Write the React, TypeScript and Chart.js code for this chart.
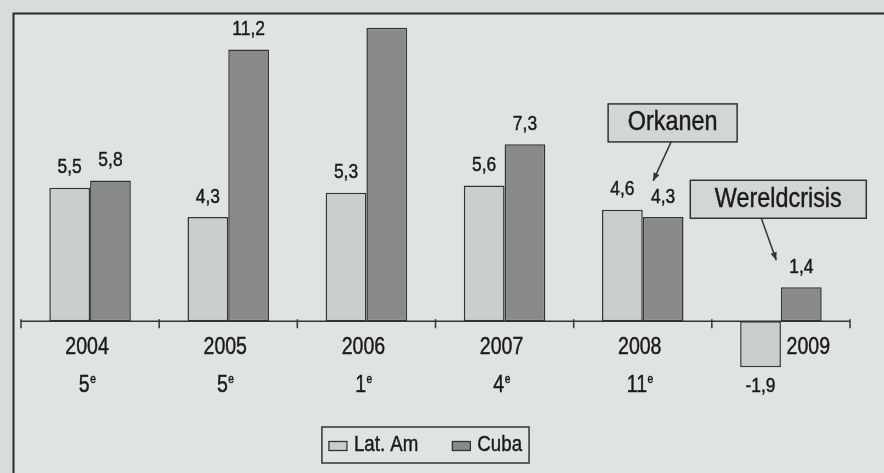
import { useEffect, useRef } from 'react';
import { Chart, registerables } from 'chart.js';

Chart.register(...registerables);

// ---- data ----
const categories = ['2004', '2005', '2006', '2007', '2008', '2009'];
const ranks = ['5', '5', '1', '4', '11', ''];
const rankSuffix = 'e';
const seriesNames = ['Lat. Am', 'Cuba'];
const latAm = [5.5, 4.3, 5.3, 5.6, 4.6, -1.9];
const cuba = [5.8, 11.2, 12.1, 7.3, 4.3, 1.4];
const annotationTexts = ['Orkanen', 'Wereldcrisis'];
const annotationCategory = ['2008', '2009'];

// ---- styling / layout (not data) ----
const BG_OUT = '#d9ddda';
const BG_IN = '#e0e4e1';
const LAT = '#cbcfcc';
const CUBA = '#888b89';
const EDGE = '#333333';
const TEXT = '#1a1a1a';
const BOX = '#d3d7d4';
const FRAME = 13.5;
const FONT = '"Liberation Sans", Arial, sans-serif';
const SQUEEZE = 0.85;
// annotation box layout relative to the Cuba bar centre (cx) and its label centre (lc)
const annLayout = [
  { bx: -55, bw: 129, by: -93, bh: 38, ax0: 8, ay0: -55, ax1: -10, ay1: -16 },
  { bx: -111, bw: 176, by: -87, bh: 38, ax0: -40, ay0: -49, ax1: -25, ay1: -7 },
];

function fmt(v: number) {
  return v.toFixed(1).replace('.', ',');
}

function txt(
  ctx: CanvasRenderingContext2D,
  s: string,
  x: number,
  y: number,
  size: number,
  align: CanvasTextAlign = 'center'
) {
  ctx.save();
  ctx.font = `${size}px ${FONT}`;
  ctx.textBaseline = 'middle';
  ctx.textAlign = align;
  ctx.fillStyle = TEXT;
  ctx.strokeStyle = TEXT;
  ctx.lineWidth = 0.45;
  ctx.translate(x, y);
  ctx.scale(SQUEEZE, 1);
  ctx.fillText(s, 0, 0);
  ctx.strokeText(s, 0, 0);
  ctx.restore();
}

function measure(ctx: CanvasRenderingContext2D, s: string, size: number) {
  ctx.save();
  ctx.font = `${size}px ${FONT}`;
  const w = ctx.measureText(s).width * SQUEEZE;
  ctx.restore();
  return w;
}

function arrow(ctx: CanvasRenderingContext2D, x0: number, y0: number, x1: number, y1: number) {
  ctx.save();
  ctx.strokeStyle = EDGE;
  ctx.fillStyle = EDGE;
  ctx.lineWidth = 1.5;
  ctx.beginPath();
  ctx.moveTo(x0, y0);
  ctx.lineTo(x1, y1);
  ctx.stroke();
  const a = Math.atan2(y1 - y0, x1 - x0);
  const L = 8;
  const W = 3.2;
  ctx.beginPath();
  ctx.moveTo(x1, y1);
  ctx.lineTo(x1 - L * Math.cos(a) + W * Math.sin(a), y1 - L * Math.sin(a) - W * Math.cos(a));
  ctx.lineTo(x1 - L * Math.cos(a) - W * Math.sin(a), y1 - L * Math.sin(a) + W * Math.cos(a));
  ctx.closePath();
  ctx.fill();
  ctx.restore();
}

const decor = {
  id: 'decor',
  beforeDraw(chart: any) {
    const { ctx, width, height } = chart;
    ctx.save();
    ctx.fillStyle = BG_OUT;
    ctx.fillRect(0, 0, width, height);
    ctx.fillStyle = BG_IN;
    ctx.fillRect(FRAME, FRAME, width, height);
    ctx.restore();
  },
  afterDatasetsDraw(chart: any) {
    const { ctx, chartArea: ca, scales, width, height } = chart;
    const ys = scales.y;
    const xs = scales.x;
    const y0 = ys.getPixelForValue(0);
    const n = categories.length;

    // axis line + ticks
    ctx.save();
    ctx.strokeStyle = EDGE;
    ctx.lineWidth = 1.5;
    ctx.beginPath();
    ctx.moveTo(ca.left, y0);
    ctx.lineTo(ca.right, y0);
    for (let i = 0; i <= n; i++) {
      const xb = ca.left + (i * (ca.right - ca.left)) / n;
      ctx.moveTo(xb, y0 - 2);
      ctx.lineTo(xb, y0 + 7);
    }
    ctx.stroke();
    ctx.restore();

    const series = [latAm, cuba];
    const labelPos: { x: number; y: number }[][] = [[], []];
    // value labels
    series.forEach((vals, d) => {
      const meta = chart.getDatasetMeta(d);
      vals.forEach((v, i) => {
        const el = meta.data[i];
        const cy = v >= 0 ? el.y - 20 : el.y + 19;
        labelPos[d][i] = { x: el.x, y: cy };
        if (cy - 8 < FRAME) return;
        txt(ctx, fmt(v), el.x, cy, 20.5);
      });
    });

    // category labels
    const cubaMeta = chart.getDatasetMeta(1);
    categories.forEach((c, i) => {
      const cx = xs.getPixelForValue(i);
      const lx = latAm[i] < 0 ? cubaMeta.data[i].x + 7 : cx - 3;
      txt(ctx, c, lx, 348, 23);
      if (ranks[i]) {
        const w1 = measure(ctx, ranks[i], 23);
        const w2 = measure(ctx, rankSuffix, 12);
        const start = cx - 3 - (w1 + w2) / 2;
        txt(ctx, ranks[i], start, 386, 23, 'left');
        txt(ctx, rankSuffix, start + w1 + 0.5, 380, 12, 'left');
      }
    });

    // frame
    ctx.save();
    ctx.strokeStyle = '#2a2a2a';
    ctx.lineWidth = 2;
    ctx.beginPath();
    ctx.moveTo(FRAME, height + 2);
    ctx.lineTo(FRAME, FRAME);
    ctx.lineTo(width + 2, FRAME);
    ctx.stroke();
    ctx.restore();

    // annotations
    annotationTexts.forEach((t, k) => {
      const i = categories.indexOf(annotationCategory[k]);
      const p = labelPos[1][i];
      const L = annLayout[k];
      const cx = p.x;
      const lc = p.y;
      ctx.save();
      ctx.fillStyle = BOX;
      ctx.strokeStyle = EDGE;
      ctx.lineWidth = 1.5;
      ctx.fillRect(cx + L.bx, lc + L.by, L.bw, L.bh);
      ctx.strokeRect(cx + L.bx, lc + L.by, L.bw, L.bh);
      ctx.restore();
      txt(ctx, t, cx + L.bx + L.bw / 2, lc + L.by + L.bh / 2, 27.5);
      arrow(ctx, cx + L.ax0, lc + L.ay0, cx + L.ax1, lc + L.ay1);
    });

    // legend
    const colors = [LAT, CUBA];
    const sw = 18;
    const sh = 9;
    const gapSwText = 7;
    const gapItems = 34;
    const pad = 7;
    const itemW = seriesNames.map((s) => sw + gapSwText + measure(ctx, s, 22));
    const totalW = itemW.reduce((a, b) => a + b, 0) + gapItems * (seriesNames.length - 1) + pad * 2;
    const boxH = 36;
    const bx = (ca.left + ca.right) / 2 - 10 - totalW / 2;
    const by = 427;
    ctx.save();
    ctx.strokeStyle = EDGE;
    ctx.lineWidth = 1.5;
    ctx.strokeRect(bx, by, totalW, boxH);
    ctx.restore();
    let cxp = bx + pad;
    const cyL = by + boxH / 2;
    seriesNames.forEach((s, k) => {
      ctx.save();
      ctx.fillStyle = colors[k];
      ctx.strokeStyle = EDGE;
      ctx.lineWidth = 1.3;
      ctx.fillRect(cxp, cyL - sh / 2 + 1, sw, sh);
      ctx.strokeRect(cxp, cyL - sh / 2 + 1, sw, sh);
      ctx.restore();
      txt(ctx, s, cxp + sw + gapSwText, cyL, 22, 'left');
      cxp += itemW[k] + gapItems;
    });
  },
};

export default function App() {
  const ref = useRef<HTMLCanvasElement>(null);
  useEffect(() => {
    const chart = new Chart(ref.current as HTMLCanvasElement, {
      type: 'bar',
      data: {
        labels: categories,
        datasets: [
          {
            label: seriesNames[0],
            data: latAm,
            backgroundColor: LAT,
            borderColor: EDGE,
            borderWidth: 1.5,
            borderSkipped: false,
            categoryPercentage: 0.59,
            barPercentage: 1,
          },
          {
            label: seriesNames[1],
            data: cuba,
            backgroundColor: CUBA,
            borderColor: EDGE,
            borderWidth: 1.5,
            borderSkipped: false,
            categoryPercentage: 0.59,
            barPercentage: 1,
          },
        ],
      },
      options: {
        responsive: false,
        animation: false,
        layout: { padding: { left: 21, right: 34, top: 18, bottom: 79 } },
        scales: {
          x: { display: false },
          y: { display: false, min: -3, max: 12.5 },
        },
        plugins: { legend: { display: false }, tooltip: { enabled: false } },
      },
      plugins: [decor],
    } as any);
    return () => chart.destroy();
  }, []);
  return (
    <div style={{ position: 'absolute', left: 0, top: 0, width: 884, height: 473 }}>
      <canvas ref={ref} width={884} height={473} style={{ display: 'block' }} />
    </div>
  );
}
